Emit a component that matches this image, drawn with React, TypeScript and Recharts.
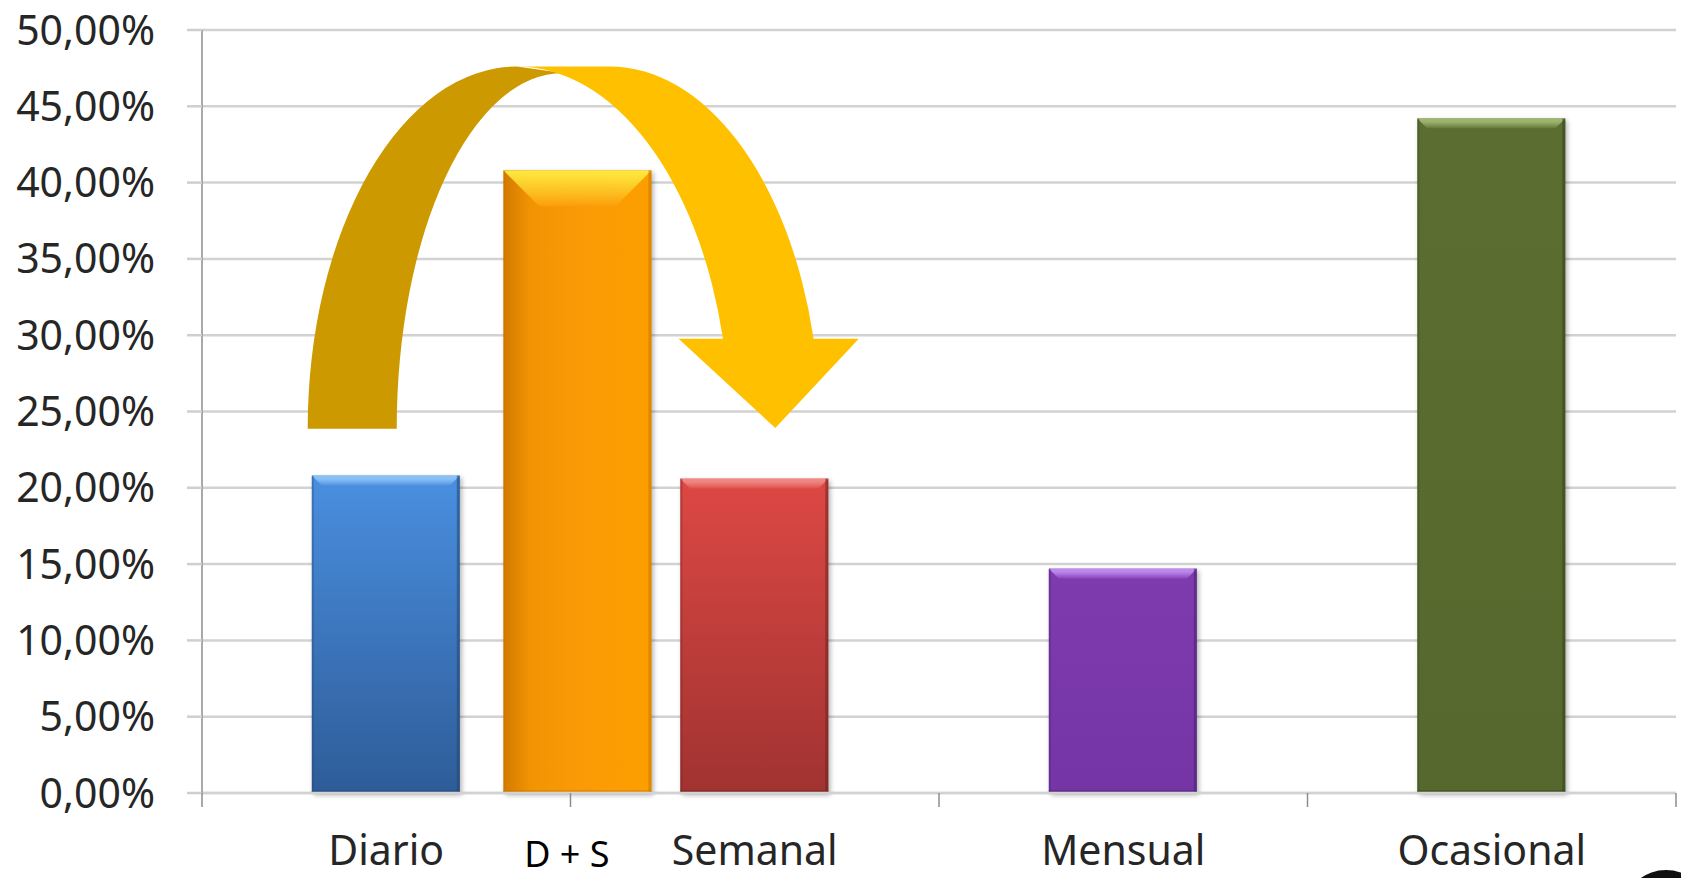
import React from 'react';
import { BarChart, Bar, XAxis, YAxis, CartesianGrid } from 'recharts';

// frequency categories and their share (%)
const categories = ['Diario', 'Semanal', 'Mensual', 'Ocasional'];
const shares = [20.8, 20.6, 14.7, 44.2];

// combined "Diario + Semanal" bar drawn between the first two categories
const combinedLabel = 'D + S';
const combinedShare = 40.8;
const combinedPos = 1.02;

const yTicks = [0, 5, 10, 15, 20, 25, 30, 35, 40, 45, 50];
const boundaryTicks = [0, 1, 2, 3, 4];

const rows = [
  ...categories.map((label, i) => ({ pos: i + 0.5, label, value: shares[i] })),
  { pos: combinedPos, label: combinedLabel, value: combinedShare },
].sort((a, b) => a.pos - b.pos);

const xTicks = [...boundaryTicks, ...categories.map((_, i) => i + 0.5), combinedPos].sort(
  (a, b) => a - b
);

// layout
const W = 1681;
const H = 878;
const MARGIN = { top: 30, right: 5, left: 0, bottom: 0 };
const Y_AXIS_W = 202;
const X_AXIS_H = 85;
const PLOT_L = MARGIN.left + Y_AXIS_W;
const PLOT_R = W - MARGIN.right;
const PLOT_T = MARGIN.top;
const PLOT_B = H - MARGIN.bottom - X_AXIS_H;
const px = (u: number) => PLOT_L + (u / 4) * (PLOT_R - PLOT_L);
const py = (p: number) => PLOT_B - (p / 50) * (PLOT_B - PLOT_T);

interface BarStyle {
  stops: [string, string][];
  dir: 'v' | 'h';
  bevel: number;
  bevelFrom: string;
  bevelTo: string;
  edge: string;
}

const barStyles: Record<string, BarStyle> = {
  Diario: {
    stops: [['0%', '#4a8fe0'], ['100%', '#2e5c98']],
    dir: 'v',
    bevel: 10,
    bevelFrom: '#8cc4f7',
    bevelTo: '#4f93e2',
    edge: '#24466f',
  },
  'D + S': {
    stops: [['0%', '#d27a00'], ['18%', '#f29303'], ['55%', '#fa9b06'], ['100%', '#fd9f00']],
    dir: 'h',
    bevel: 36,
    bevelFrom: '#ffe93e',
    bevelTo: '#fa9e0a',
    edge: '#c77200',
  },
  Semanal: {
    stops: [['0%', '#dd4844'], ['100%', '#a03331']],
    dir: 'v',
    bevel: 10,
    bevelFrom: '#f08a85',
    bevelTo: '#df4d49',
    edge: '#6d2220',
  },
  Mensual: {
    stops: [['0%', '#7e3bae'], ['100%', '#7535a5']],
    dir: 'v',
    bevel: 10,
    bevelFrom: '#c08cf0',
    bevelTo: '#8444b4',
    edge: '#4a2170',
  },
  Ocasional: {
    stops: [['0%', '#5b6d30'], ['100%', '#56682d']],
    dir: 'v',
    bevel: 10,
    bevelFrom: '#a2b873',
    bevelTo: '#617535',
    edge: '#35411a',
  },
};

const idOf = (label: string) => label.replace(/\W/g, '');

const fmtPct = (v: number) => `${v.toFixed(2).replace('.', ',')}%`;

const BevelBar = (props: any) => {
  const { x, y, width: w, height: h, payload } = props;
  const s = barStyles[payload.label];
  const id = idOf(payload.label);
  const d = Math.min(s.bevel, h / 2);
  return (
    <g>
      <rect
        x={x + 2}
        y={y + 2}
        width={w}
        height={h}
        fill="#000"
        opacity={0.3}
        filter="url(#barShadow)"
      />
      <rect x={x} y={y} width={w} height={h} fill={`url(#fill-${id})`} />
      <polygon
        points={`${x},${y} ${x + w},${y} ${x + w - d},${y + d} ${x + d},${y + d}`}
        fill={`url(#bevel-${id})`}
      />
      <rect x={x} y={y} width={2} height={h} fill={s.edge} opacity={0.35} />
      <rect x={x + w - 3} y={y} width={3} height={h} fill={s.edge} opacity={0.55} />
      <rect x={x} y={y + h - 3} width={w} height={3} fill={s.edge} opacity={0.4} />
    </g>
  );
};

const XTick = (props: any) => {
  const { x, y, payload } = props;
  const v = payload.value as number;
  if (v === combinedPos) {
    return (
      <text x={x - 11} y={y + 74} textAnchor="middle" fontSize={36} fill="#000">
        {combinedLabel}
      </text>
    );
  }
  if (Number.isInteger(v)) {
    return <line x1={x} x2={x} y1={y} y2={y + 14} stroke="#8c8c8c" strokeWidth={1.5} />;
  }
  return (
    <text x={x} y={y + 72} textAnchor="middle" fontSize={41} fill="#262626">
      {categories[Math.floor(v)]}
    </text>
  );
};

// curved "Diario -> Semanal" arrow
const CurvedArrow = () => {
  const base = py(23.87);
  const top = py(47.61);
  const darkOuter = { x0: px(0.2868), cx: px(0.8548) };
  const darkInner = { x0: px(0.5284), cx: px(0.9797), top: py(47.18) };
  const shaftY = py(29.76);
  const yOutX = px(1.6597);
  const yInX = px(1.4138);
  const headR = px(1.7823);
  const headL = px(1.2933);
  const tip = { x: px(1.5558), y: py(23.92) };
  const flatR = px(1.1045);
  const ry = base - top;

  const dark = [
    `M ${darkOuter.x0} ${base}`,
    `A ${darkOuter.cx - darkOuter.x0} ${ry} 0 0 1 ${darkOuter.cx} ${top}`,
    `L ${darkInner.cx} ${darkInner.top}`,
    `A ${darkInner.cx - darkInner.x0} ${base - darkInner.top} 0 0 0 ${darkInner.x0} ${base}`,
    'Z',
  ].join(' ');

  const light = [
    `M ${darkOuter.cx} ${top}`,
    `L ${flatR} ${top}`,
    `A ${px(0.5715) - px(0)} ${ry} 0 0 1 ${yOutX} ${shaftY}`,
    `L ${headR} ${shaftY}`,
    `L ${tip.x} ${tip.y}`,
    `L ${headL} ${shaftY}`,
    `L ${yInX} ${shaftY}`,
    `A ${px(0.5772) - px(0)} ${ry} 0 0 0 ${darkOuter.cx} ${top}`,
    'Z',
  ].join(' ');

  return (
    <svg
      width={W}
      height={H}
      style={{ position: 'absolute', left: 0, top: 0, pointerEvents: 'none' }}
    >
      <path d={dark} fill="#cc9a00" />
      <path d={light} fill="#ffc000" />
      <ellipse cx={1666} cy={902} rx={38} ry={32} fill="#111" />
    </svg>
  );
};

export default function App() {
  return (
    <div
      style={{
        position: 'absolute',
        left: 0,
        top: 0,
        width: W,
        height: H,
        background: '#fff',
        overflow: 'hidden',
        fontFamily: '"Noto Sans", "Open Sans", sans-serif',
      }}
    >
      <BarChart width={W} height={H} data={rows} margin={MARGIN}>
        <defs>
          <filter id="barShadow" x="-10%" y="-10%" width="130%" height="130%">
            <feGaussianBlur stdDeviation={2.5} />
          </filter>
          {Object.entries(barStyles).map(([label, s]) => (
            <React.Fragment key={label}>
              <linearGradient
                id={`fill-${idOf(label)}`}
                x1="0"
                y1="0"
                x2={s.dir === 'h' ? '1' : '0'}
                y2={s.dir === 'h' ? '0' : '1'}
              >
                {s.stops.map(([o, c]) => (
                  <stop key={o} offset={o} stopColor={c} />
                ))}
              </linearGradient>
              <linearGradient id={`bevel-${idOf(label)}`} x1="0" y1="0" x2="0" y2="1">
                <stop offset="0%" stopColor={s.bevelFrom} />
                <stop offset={s.dir === 'h' ? '15%' : '35%'} stopColor={s.bevelFrom} stopOpacity={0.9} />
                <stop offset="100%" stopColor={s.bevelTo} />
              </linearGradient>
            </React.Fragment>
          ))}
        </defs>
        <CartesianGrid vertical={false} stroke="#d2d2d2" strokeWidth={2.5} />
        <XAxis
          type="number"
          dataKey="pos"
          domain={[0, 4]}
          ticks={xTicks}
          interval={0}
          height={X_AXIS_H}
          tickLine={false}
          tickSize={0}
          tickMargin={0}
          axisLine={{ stroke: '#d2d2d2', strokeWidth: 2.5 }}
          tick={<XTick />}
        />
        <YAxis
          type="number"
          domain={[0, 50]}
          ticks={yTicks}
          interval={0}
          width={Y_AXIS_W}
          tickFormatter={fmtPct}
          tickSize={15}
          tickMargin={32}
          tickLine={{ stroke: '#cfcfcf', strokeWidth: 2.5 }}
          axisLine={{ stroke: '#8c8c8c', strokeWidth: 1.5 }}
          tick={{ fontSize: 41, fill: '#262626' }}
        />
        <Bar dataKey="value" barSize={148} shape={<BevelBar />} isAnimationActive={false} />
      </BarChart>
      <CurvedArrow />
    </div>
  );
}
